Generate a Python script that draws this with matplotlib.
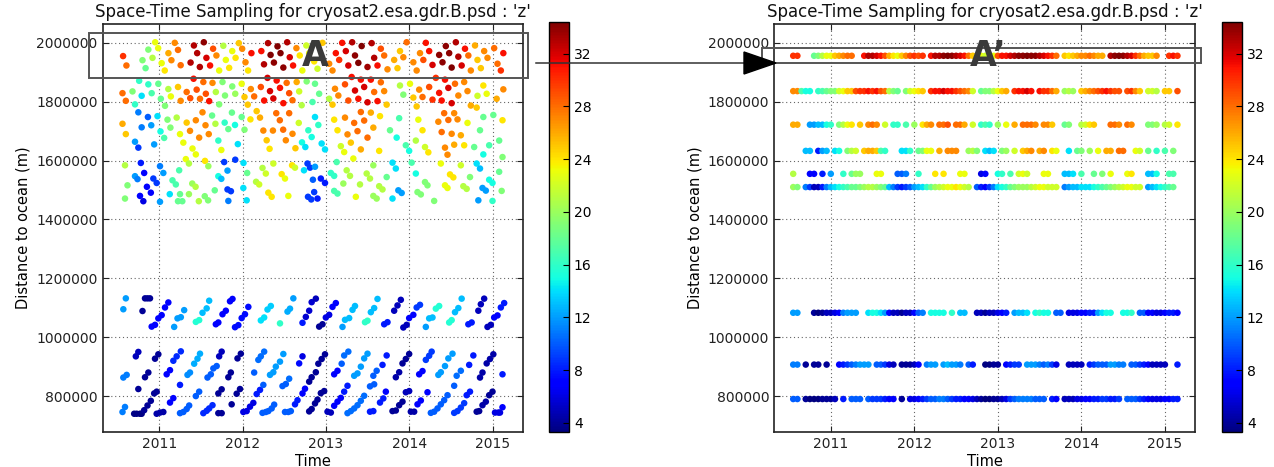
import matplotlib
matplotlib.use('Agg')
import matplotlib.pyplot as plt
import numpy as np
from matplotlib.patches import Rectangle, Polygon
from matplotlib.lines import Line2D

W, H = 1274, 467
_ = None

TITLE = "Space-Time Sampling for cryosat2.esa.gdr.B.psd : 'z'"
years = [2011, 2012, 2013, 2014, 2015]
dist_ticks = [800000, 1000000, 1200000, 1400000, 1600000, 1800000, 2000000]
cbar_ticks = [4, 8, 12, 16, 20, 24, 28, 32]
z_min, z_max = 3.3, 34.4

# ---- panel A : (time, distance in km, z) ----
upper_band = [
    (2010.567,1955,30),(2010.607,1923,28),(2010.952,2002,23),(2010.988,1982,23),(2010.80,1941,19),
    (2010.837,1914,18),(2010.87,1977,19),(2010.92,1949,21),(2011.03,1931,23),(2011.067,1906,24),
    (2011.111,1965,26),(2011.147,1941,27),(2011.187,2000,27),(2011.226,1976,28),(2011.258,1924,28),
    (2011.377,1933,33),(2011.417,1991,33),(2011.456,1965,33),(2011.488,1918,33),(2011.536,2002,34),
    (2011.567,1949,32),(2011.611,1923,31),(2011.647,1980,29),(2011.687,1957,27),(2011.72,1906,23),
    (2011.77,1990,21),(2011.80,1942,23),(2011.84,1915,24),(2011.877,1972,23),(2011.917,1949,24),
    (2011.956,1999,25),(2011.996,1980,27),(2012.036,1934,27),(2012.067,1906,24),(2012.107,1965,31),
    (2012.226,1972,31),(2012.258,1927,33),(2012.306,1999,33),(2012.337,1959,34.5),(2012.377,1933,34),
    (2012.42,1988,34.5),(2012.456,1965,34.5),(2012.49,1916,34),(2012.536,2002,33),(2012.567,1951,32),
    (2012.607,1923,31),(2012.647,1982,27),(2012.687,1957,24),(2012.718,1906,23),(2012.766,1991,22),
    (2012.80,1965,23),(2012.86,1937,24),(2012.90,1912,22),(2012.96,2000,25),(2013.04,1929,27),
    (2013.08,1906,27),(2013.12,1965,31),(2013.16,1942,30),(2013.196,2000,31),(2013.24,1972,32),
    (2013.27,1923,32),(2013.316,2002,33),(2013.35,1957,34),(2013.39,1932,34.5),(2013.43,1989,34.5),
    (2013.50,1918,33.5),(2013.55,1999,33),(2013.58,1949,33),(2013.62,1923,31),(2013.66,1980,29),
    (2013.70,1957,28),(2013.74,1910,27),(2013.82,1942,26),(2013.86,1914,25),(2013.89,1972,25),
    (2013.93,1951,27),(2013.97,2002,28),(2014.05,1934,27),(2014.09,1906,27),(2014.13,1965,27),
    (2014.17,1942,29),(2014.20,2000,31),(2014.24,1972,31),(2014.28,1925,32),(2014.36,1959,34),
    (2014.40,1934,34),(2014.44,1989,34),(2014.48,1965,34),(2014.51,1916,34.5),(2014.56,2002,33),
    (2014.59,1953,33),(2014.63,1923,32),(2014.67,1980,31),(2014.71,1957,28),(2014.74,1906,27),
    (2014.79,1991,26),(2014.82,1942,25),(2014.86,1914,25),(2014.90,1972,27),(2014.94,1949,27),
    (2015.02,1982,28),(2015.06,1929,28),(2015.10,1906,30),(2015.13,1965,31),
    # 1780 - 1890 km
    (2010.76,1871,16),(2010.68,1835,19),(2010.56,1829,28),(2010.60,1803,28),(2010.71,1791,16),
    (2010.79,1820,14),(2010.87,1859,16),(2010.91,1829,17),(2010.99,1861,18),(2011.02,1810,18),
    (2011.07,1786,19),(2011.11,1843,21),(2011.14,1818,23),(2011.226,1850,25),(2011.258,1803,27),
    (2011.33,1833,28),(2011.373,1812,29),(2011.413,1878,31),(2011.45,1841,29),(2011.49,1810,28),
    (2011.53,1867,28),(2011.56,1827,29),(2011.60,1802,31),(2011.64,1864,27),(2011.68,1833,21),
    (2011.72,1791,19),(2011.76,1867,19),(2011.79,1821,19),(2011.877,1852,19),(2011.913,1827,20),
    (2011.99,1861,23),(2012.024,1816,25),(2012.10,1843,27),(2012.14,1818,28),(2012.22,1850,29),
    (2012.26,1804,31),(2012.30,1881,32),(2012.33,1836,32),(2012.37,1811,32),(2012.41,1872,31),
    (2012.45,1847,31),(2012.49,1795,31),(2012.53,1864,28),(2012.56,1829,29),(2012.60,1805,28),
    (2012.65,1867,26),(2012.68,1835,22),(2012.71,1788,21),(2012.77,1869,19),(2012.87,1861,18),
    (2012.92,1827,18),(2012.84,1799,17),(2013.04,1810,21),(2013.08,1790,25),(2013.11,1844,27),
    (2013.15,1821,27),(2013.23,1859,29),(2013.27,1804,29),(2013.31,1884,31),(2013.35,1838,32),
    (2013.39,1810,31),(2013.42,1875,31),(2013.46,1850,32),(2013.50,1798,32),(2013.54,1875,31),
    (2013.58,1833,28),(2013.62,1802,31),(2013.66,1866,28),(2013.70,1836,27),(2013.73,1790,25),
    (2013.89,1855,21),(2013.93,1824,19),(2014.01,1861,23),(2014.05,1814,25),(2014.09,1784,25),
    (2014.12,1841,27),(2014.16,1816,28),(2014.24,1850,29),(2014.28,1807,30),(2014.32,1881,30),
    (2014.36,1830,31),(2014.39,1804,31),(2014.43,1875,31),(2014.47,1847,32),(2014.51,1795,32),
    (2014.55,1861,28),(2014.59,1821,27),(2014.66,1867,27),(2014.70,1836,27),(2014.74,1787,26),
    (2014.82,1820,22),(2014.89,1855,24),(2014.93,1827,23),(2015.05,1810,26),(2015.13,1842,27),
    # 1600 - 1780 km
    (2010.75,1764,11),(2010.56,1725,26),(2010.60,1690,25),(2010.79,1713,11),(2010.865,1748,10),
    (2010.905,1720,12),(2010.71,1664,12),(2010.75,1644,9),(2010.94,1655,12),(2010.98,1751,14),
    (2011.016,1699,15),(2011.06,1677,17),(2011.10,1739,19),(2011.135,1712,19),(2011.21,1746,21),
    (2011.25,1690,23),(2011.29,1661,23),(2011.33,1729,25),(2011.37,1701,27),(2011.44,1737,27),
    (2011.48,1678,27),(2011.52,1764,27),(2011.556,1720,27),(2011.595,1690,27),(2011.40,1641,23),
    (2011.44,1621,23),(2011.635,1753,18),(2011.675,1725,21),(2011.71,1668,16),(2011.746,1636,23),
    (2011.786,1729,16),(2011.83,1707,18),(2011.873,1763,18),(2011.91,1721,15),(2011.944,1656,14),
    (2011.99,1748,18),(2012.024,1705,19),(2012.063,1790,25),(2012.095,1740,24),(2012.17,1768,25),
    (2012.21,1746,26),(2012.25,1702,27),(2012.29,1669,25),(2012.325,1640,24),(2012.365,1702,27),
    (2012.405,1761,28),(2012.448,1737,28),(2012.488,1705,28),(2012.52,1669,27),(2012.56,1761,28),
    (2012.60,1691,27),(2012.635,1642,25),(2012.675,1728,22),(2012.714,1662,15),(2012.754,1646,14),
    (2012.79,1703,16),(2012.83,1680,15),(2012.87,1748,14),(2012.91,1721,16),(2012.95,1658,14),
    (2012.99,1638,14),(2013.10,1739,24),(2013.14,1703,24),(2013.18,1649,22),(2013.22,1629,23),
    (2013.23,1746,27),(2013.26,1689,27),(2013.30,1661,25),(2013.34,1728,28),(2013.38,1700,28),
    (2013.42,1765,28),(2013.46,1736,28),(2013.50,1678,28),(2013.42,1638,26),(2013.54,1763,26),
    (2013.57,1712,26),(2013.65,1751,24),(2013.64,1633,24),(2013.77,1703,18),(2013.85,1678,15),
    (2013.88,1744,17),(2013.96,1652,17),(2014.00,1633,15),(2014.08,1668,21),(2014.11,1739,23),
    (2014.16,1703,24),(2014.19,1646,22),(2014.23,1628,24),(2014.35,1732,27),(2014.39,1697,28),
    (2014.42,1761,28),(2014.47,1738,28),(2014.43,1644,27),(2014.46,1620,27),(2014.51,1691,27),
    (2014.54,1761,27),(2014.58,1740,27),(2014.54,1654,26),(2014.62,1686,26),(2014.66,1652,24),
    (2014.70,1728,23),(2014.78,1646,18),(2014.81,1780,25),(2014.85,1703,18),(2014.89,1748,18),
    (2014.96,1652,17),(2015.01,1755,18),(2015.08,1668,18),(2015.12,1737,24),(2014.89,1621,15),
    (2015.12,1612,19),
    # 1450 - 1600 km
    (2010.59,1584,21),(2010.62,1516,19),(2010.59,1471,19),(2010.71,1547,12),(2010.74,1537,11),
    (2010.78,1592,8),(2010.82,1558,7),(2010.853,1511,7),(2010.90,1491,7),(2010.77,1480,7),
    (2010.81,1462,6),(2010.93,1539,9),(2010.97,1524,9),(2011.01,1581,11),(2011.05,1558,12),
    (2011.01,1460,12),(2011.127,1486,14),(2011.16,1533,17),(2011.20,1519,17),(2011.25,1486,18),
    (2011.226,1462,18),(2011.278,1462,18),(2011.24,1567,17),(2011.32,1605,23),(2011.357,1590,21),
    (2011.397,1522,20),(2011.437,1511,21),(2011.476,1462,21),(2011.357,1486,20),(2011.55,1599,24),
    (2011.59,1581,20),(2011.547,1479,19),(2011.587,1465,19),(2011.667,1499,18),(2011.71,1547,15),
    (2011.746,1538,13),(2011.78,1595,9),(2011.82,1566,12),(2011.82,1502,9),(2011.861,1496,9),
    (2011.83,1463,11),(2011.913,1603,9),(2012.012,1592,14),(2012.056,1558,18),(2012.05,1465,14),
    (2012.01,1507,14),(2012.163,1528,21),(2012.20,1519,22),(2012.24,1575,21),(2012.28,1556,22),
    (2012.31,1491,24),(2012.35,1477,24),(2012.37,1590,22),(2012.47,1554,24),(2012.51,1539,23),
    (2012.55,1480,23),(2012.595,1584,24),(2012.63,1576,22),(2012.738,1567,14),(2012.78,1590,9),
    (2012.81,1576,9),(2012.786,1477,9),(2012.825,1468,9),(2012.845,1535,10),(2012.87,1579,12),
    (2012.86,1493,9),(2012.94,1539,8),(2012.99,1524,8),(2012.90,1471,8),(2013.06,1558,16),
    (2013.10,1548,16),(2013.13,1595,17),(2013.10,1497,17),(2013.14,1488,17),(2013.25,1567,21),
    (2013.29,1548,21),(2013.21,1522,20),(2013.33,1607,23),(2013.41,1519,21),(2013.36,1477,23),
    (2013.49,1556,21),(2013.53,1539,21),(2013.57,1584,20),(2013.64,1513,21),(2013.68,1502,21),
    (2013.57,1480,20),(2013.61,1471,20),(2013.73,1544,18),(2013.80,1593,14),(2013.84,1573,14),
    (2013.87,1499,12),(2013.91,1490,12),(2013.80,1471,14),(2014.08,1556,15),(2014.03,1593,17),
    (2014.10,1493,19),(2014.14,1485,19),(2014.19,1527,19),(2014.22,1516,19),(2014.30,1463,19),
    (2014.38,1590,23),(2014.43,1516,23),(2014.46,1507,23),(2014.49,1553,24),(2014.53,1543,24),
    (2014.62,1584,22),(2014.65,1513,21),(2014.69,1504,21),(2014.73,1544,19),(2014.81,1590,14),
    (2014.85,1573,13),(2014.88,1507,12),(2014.92,1498,12),(2014.83,1465,12),(2014.96,1535,15),
    (2015.00,1524,15),(2015.08,1562,18),(2015.11,1497,19),(2015.00,1463,16),
]

middle_band = [
    (2010.60,1132,12),(2010.57,1095,12),(2010.83,1132,4),(2010.86,1132,4),(2010.89,1132,4),
    (2010.80,1089,4),(2010.91,1036,7),(2010.95,1042,7),(2010.99,1064,7),(2011.03,1075,7),
    (2011.07,1101,7),(2011.11,1118,7),(2011.18,1035,12),(2011.22,1064,12),(2011.26,1068,12),
    (2011.30,1092,12),(2011.44,1052,15.5),(2011.48,1058,15.5),(2011.52,1083,13),(2011.57,1098,13),
    (2011.60,1124,13),(2011.68,1044,7),(2011.71,1050,7),(2011.76,1078,7),(2011.80,1090,7),
    (2011.85,1122,7),(2011.88,1130,7),(2011.91,1034,7.5),(2011.95,1041,7.5),(2011.99,1065,7.5),
    (2012.03,1078,7.5),(2012.07,1103,7.5),(2012.22,1057,14),(2012.26,1067,14),(2012.30,1094,13.5),
    (2012.34,1106,13.5),(2012.45,1047,16),(2012.54,1087,12.5),(2012.57,1097,12.5),(2012.61,1132,12),
    (2012.72,1049,8),(2012.76,1069,5.5),(2012.80,1090,5.5),(2012.83,1119,5.5),(2012.88,1131,5),
    (2012.92,1036,4),(2012.96,1044,4),(2013.00,1067,6),(2013.04,1076,6),(2013.08,1103,7),
    (2013.12,1116,7),(2013.20,1035,12),(2013.23,1059,13),(2013.28,1065,13),(2013.32,1093,13),
    (2013.35,1106,13),(2013.47,1051,16),(2013.50,1056,16),(2013.54,1085,13),(2013.58,1099,13),
    (2013.62,1130,13),(2013.70,1044,8),(2013.74,1051,8),(2013.82,1090,5),(2013.86,1108,5),
    (2013.90,1127,5),(2013.93,1033,5),(2013.97,1042,5),(2014.00,1065,7),(2014.05,1076,7),
    (2014.09,1101,9),(2014.13,1110,9),(2014.20,1035,12),(2014.24,1064,13),(2014.28,1067,13),
    (2014.32,1097,15.5),(2014.36,1106,15.5),(2014.48,1050,15.5),(2014.51,1058,15.5),(2014.55,1085,13),
    (2014.59,1099,13),(2014.63,1131,13),(2014.71,1044,8),(2014.75,1050,8),(2014.83,1090,5),
    (2014.86,1112,5),(2014.90,1131,5),(2014.94,1035,5),(2014.98,1042,5),(2015.02,1067,7),
    (2015.06,1074,7),(2015.10,1101,8),(2015.14,1116,8),
]

lower_band = [
    (2010.56,746,11),(2010.59,763,11),(2010.57,863,11),(2010.61,872,11),(2010.72,935,5),(2010.75,950,5),
    (2010.70,740,3.5),(2010.73,740,3.5),(2010.77,740,3.5),(2010.79,740,3.5),(2010.82,752,4),
    (2010.86,768,4),(2010.90,784,4),(2010.94,809,4),(2010.97,815,4),(2010.75,824,4),(2010.83,864,4),
    (2010.87,880,4),(2010.95,927,4),(2010.99,942,4),(2010.97,740,4.5),(2011.01,744,4.5),(2011.05,746,4.5),
    (2011.09,874,7),(2011.13,888,7),(2011.13,778,7),(2011.17,793,7),(2011.17,920,8.5),(2011.21,935,8.5),
    (2011.26,952,8.5),(2011.25,838,8),(2011.25,742,10),(2011.29,746,10),(2011.33,756,10),(2011.36,768,10),
    (2011.34,872,11.5),(2011.37,880,11.5),(2011.42,910,12.5),(2011.46,927,12.5),(2011.49,944,12.5),
    (2011.44,800,10),(2011.48,815,10),(2011.53,742,8.5),(2011.57,750,8.5),(2011.60,758,8.5),
    (2011.64,769,8.5),(2011.58,863,10),(2011.62,874,10),(2011.65,894,10),(2011.69,902,10),
    (2011.72,935,5),(2011.75,951,5),(2011.71,809,4),(2011.75,823,4),(2011.83,864,4),(2011.86,880,4),
    (2011.71,742,4),(2011.75,742,4),(2011.87,772,4),(2011.93,808,4),(2011.97,824,4),(2011.94,928,4),
    (2011.98,944,4),(2012.01,746,6),(2012.05,749,6),(2012.09,764,6),(2012.13,777,6),(2012.14,880,10),
    (2012.17,807,8),(2012.21,821,8),(2012.25,838,10),(2012.19,923,10.5),(2012.22,935,10.5),
    (2012.26,951,10.5),(2012.24,743,10),(2012.28,746,10),(2012.31,749,10),(2012.35,758,10),
    (2012.38,771,10),(2012.33,872,12),(2012.37,881,12),(2012.40,900,12),(2012.45,917,12),(2012.49,943,12),
    (2012.48,834,10),(2012.52,841,10),(2012.56,859,10.5),(2012.51,746,10),(2012.55,746,10),
    (2012.58,749,10),(2012.63,772,8),(2012.66,786,8),(2012.68,911,7.5),(2012.72,935,6),(2012.72,809,7),
    (2012.75,825,7),(2012.80,849,4),(2012.83,864,4),(2012.80,748,4),(2012.83,756,4),
    (2012.87,775,4),(2012.90,788,4),(2012.94,810,4),(2012.98,817,4),(2012.88,881,4),(2012.91,910,4),
    (2012.95,926,4),(2012.99,942,4),(2013.02,747,5),(2013.06,744,5),(2013.10,767,7),(2013.14,781,7),
    (2013.18,794,7),(2013.10,874,7),(2013.14,886,7),(2013.22,815,8),(2013.26,835,8),(2013.19,910,10),
    (2013.22,938,10.5),(2013.27,951,10.5),(2013.26,742,10.5),(2013.30,749,10.5),(2013.34,758,10.5),
    (2013.38,769,10.5),(2013.42,784,10.5),(2013.46,801,10.5),(2013.34,869,12),(2013.38,877,12),
    (2013.42,900,12),(2013.46,928,12),(2013.50,944,12),(2013.53,833,10),(2013.58,840,10),
    (2013.57,869,10),(2013.61,886,10),(2013.53,747,8),(2013.57,749,8),(2013.65,778,8),(2013.69,792,8),
    (2013.68,906,8),(2013.73,938,8),(2013.72,815,7),(2013.80,749,4),(2013.84,751,4),(2013.88,769,4),
    (2013.92,781,4),(2013.84,864,4.5),(2013.88,881,4.5),(2013.92,911,4),(2013.96,926,4),(2014.00,943,4),
    (2013.96,813,5),(2014.00,817,5),(2014.02,747,4.5),(2014.06,747,4.5),(2014.10,772,7),(2014.14,785,7),
    (2014.12,874,7),(2014.16,885,7),(2014.22,813,7),(2014.20,923,9),(2014.24,937,9),(2014.27,951,9),
    (2014.26,743,10),(2014.30,747,10),(2014.34,758,10),(2014.38,772,10),(2014.42,786,10),
    (2014.46,803,10),(2014.35,872,12),(2014.38,881,12),(2014.43,902,12),(2014.47,928,12),
    (2014.52,944,12),(2014.54,835,10),(2014.57,869,10.5),(2014.62,886,10.5),(2014.54,743,9),
    (2014.58,749,9),(2014.62,761,9),(2014.66,776,9),(2014.69,803,8),(2014.73,815,8),(2014.72,906,8),
    (2014.77,938,8),(2014.81,747,4),(2014.84,749,4),(2014.88,769,4.5),(2014.92,781,4.5),
    (2014.96,803,4),(2015.00,815,4),(2014.85,863,4.5),(2014.88,880,4.5),(2014.93,911,4.5),
    (2014.97,926,4.5),(2015.01,942,4.5),(2015.03,744,6),(2015.07,744,6),(2015.09,744,6),
    (2015.12,762,7),(2015.12,874,8),
]

# ---- panel A' : z read along each distance row, one reading every 0.05 yr from 2010.55 ----
row_dist_km = [1956, 1836, 1722, 1633, 1555, 1510, 1083, 907, 790]
row_z = [
    [30, 30, _, _, _, 18, 19, 21, 23,
     23, 25, 26, 27, 28, 28, _, _, 31, 33, 33, 32, 31, 29, 26, 24, 23, 25, 27, 29,
     30, 29, 30, _, 31, 33, 33, 34, 35, 34, 33, 32, 31, 28, 25, 24, 23, 22, 22, 23,
     29, 31, 31, 32, 33, 34, 34, 35, 34, 34, 33, 32, 31, 30, 28, _, 25, 24, 25, 26,
     27, 27, 28, 27, 26, 26, _, 33, 34, 35, 34, 33, 32, 30, 28, 26, 25, 25, 27, _,
     _, 30, 31, 30],
    [27, 27, 17, 15, 15, _, 16, 17, 18,
     19, 19, 22, 23, 25, 25, 29, 30, 30, 31, 30, 31, 29, 28, 21, 19, 18, _, 19, 22,
     23, 24, 25, _, 30, 31, 31, 32, 31, 31, 30, 29, 28, 27, 22, _, 18, 19, 19, 21,
     23, 25, 26, _, 30, 31, 31, 32, 31, _, 31, 30, 30, 28, 26, _, 20, 21, 20, _,
     25, 26, 27, 28, 29, 30, 31, 30, 29, 29, _, 29, 30, 27, 25, _, 22, 22, 21, _,
     25, 25, _, 29],
    [26, 26, _, _, 12, 12, 13, 13, 15,
     16, _, 19, 21, 23, 24, _, 25, _, 27, 28, 27, _, 22, _, 16, 16, _, 17, _,
     20, _, 24, 26, 27, _, 28, 28, 29, _, 28, 28, 26, _, 22, _, 16, 17, 16, _,
     20, _, 23, _, 26, _, 28, 28, 28, 27, _, 27, 27, 25, _, _, 18, 19, _, _,
     21, 22, 24, 25, _, _, _, 28, 28, 27, _, 28, 27, _, _, _, 19, 19, 20, _,
     21, 22, _, 24],
    [_, _, _, 13, 13, _, 8, 12, 13,
     _, 14, 15, _, 19, 21, 22, _, 25, 26, 26, 25, 17, 16, _, _, _, 14, 14, 16,
     _, 18, 19, 23, 23, _, 26, _, 27, 27, 27, _, _, 20, 21, 19, _, 14, 13, 14,
     _, 19, 20, _, 22, _, 25, 26, 27, _, 26, 27, _, 24, 23, _, _, 14, _, 18,
     19, _, 20, _, 23, _, 26, 26, _, 28, 28, _, _, 23, 22, _, 18, _, 16, _,
     17, _, 19, _],
    [21, _, _, _, 7, 7, _, 8, _,
     12, _, _, 16, _, 18, 20, 20, _, _, _, 23, 23, _, _, _, 10, 10, 11, _,
     _, 16, _, _, _, 24, _, 24, _, _, _, 23, 23, _, _, _, 6, 7, _, _,
     15, 16, _, 17, _, 22, 23, 22, _, _, _, 23, 23, _, _, _, 13, 13, 14, _,
     17, _, _, 18, _, 19, _, 23, _, _, _, 23, 24, _, _, _, 13, 13, 15, _,
     _, 17, 17, _],
    [20, 19, _, 11, 9, 5, 5, 8, 11,
     13, 14, 15, 16, 17, 18, 18, 19, 20, 21, 21, 20, 19, 18, 13, 11, 9, 8, 9, 10,
     12, 13, 14, 16, 18, 20, 21, 22, 23, 23, 24, 23, 22, 21, _, 10, 8, 7, 9, 11,
     14, 15, 16, 18, 19, 20, 20, 20, 21, 22, 23, 23, 22, 22, 22, _, 11, 12, 13, 13,
     14, 14, 14, 15, 16, 17, 18, 19, 20, 21, 22, 23, 23, 22, 22, _, 12, 13, 14, 15,
     16, 17, 18, _],
    [12, 12, _, _, _, 4, 3, 4, 5,
     5, 6, 7, 11, 12, 12, 12, _, _, 14, 15, 15, 14, 12, 7, 5, 5, 4, 5, 5,
     7, 10, 11, _, 15, 15, 15, 15, _, 16, _, 13, 13, _, _, 5, 5, 4, 5, 5,
     6, 7, 8, _, 12, 13, 13, 14, _, 15, 16, 15, 15, _, 10, 10, _, 6, 6, 6,
     7, 7, 8, 8, 12, 14, 15, 15, _, _, 15, 15, 16, _, 10, 10, 7, 7, 6, 6,
     7, 8, 8, 7],
    [11, 11, _, 4, _, 4, 4, _, 4,
     _, _, 7, 8, 9, 10, 11, 12, 12, 12, _, 10, 10, 9, 6, 5, _, 4, 4, 4,
     5, 7, _, 11, 12, 12, _, 12, 13, 12, 12, 11, _, 10, 8, _, _, 3, 3, 4,
     4, _, 7, 8, 9, 9, _, 12, 12, 12, 11, 10, 11, 9, 6, _, _, 5, 5, 5,
     5, _, 8, 9, 10, 10, 10, 12, 12, 11, 11, _, 10, 10, 9, 8, 7, 5, 5, 5,
     5, _, _, 8],
    [10, 10, _, 4, 3, 3, 3, 4, 4,
     4, 5, _, 8, _, 10, 10, 10, _, 10, 9, 9, 9, 8, 7, 7, _, 4, _, 6,
     6, 7, 8, 9, 10, 10, 11, 11, 10, 9, 8, 8, 7, 7, 6, 5, 4, 3, 3, 4,
     4, 5, 6, 9, 10, 11, 11, 11, 11, 10, 10, 10, _, 8, 7, _, 5, 5, 5, 6,
     6, 7, 7, 8, 8, 9, 9, 8, 8, 9, _, 10, 10, 10, 9, 8, 7, 6, 6, 6,
     7, 7, 8, 8],
]
t_grid = np.round(2010.55 + 0.05 * np.arange(93), 2)


def fig_xy(x, y):
    # pixel position in the 1274x467 picture -> figure fraction
    return x / W, 1 - y / H


def style(ax):
    ax.set_xlim(2010.32, 2015.36)
    ax.set_ylim(678000, 2064000)
    ax.set_xticks(years)
    ax.set_xticklabels([str(y) for y in years])
    ax.set_yticks(dist_ticks)
    ax.set_yticklabels([str(d) for d in dist_ticks])
    ax.tick_params(direction='in', top=True, right=True, length=4, width=0.8,
                   labelsize=10, colors='#222222')
    ax.grid(True, linestyle=(0, (1, 2.5)), color='0.4', linewidth=0.8)
    ax.set_axisbelow(True)
    for s in ax.spines.values():
        s.set_linewidth(1.2)
        s.set_color('#222222')
    ax.set_title(TITLE, fontsize=12, pad=5, color='#111111')
    ax.set_xlabel('Time', fontsize=10.5, labelpad=2)
    ax.set_ylabel('Distance to ocean (m)', fontsize=10.5, labelpad=4)


def colorbar(sc, x0):
    cax = fig.add_axes([x0 / W, 35 / H, 20 / W, 410 / H])
    cb = fig.colorbar(sc, cax=cax, ticks=cbar_ticks)
    cb.outline.set_linewidth(1.0)
    cax.tick_params(direction='in', length=4, width=0.8, labelsize=10)
    return cb


fig = plt.figure(figsize=(W / 100, H / 100), dpi=100)

# panel A
axA = fig.add_axes([102.5 / W, 35 / H, 420 / W, 408 / H])
pts = np.array(upper_band + middle_band + lower_band, dtype=float)
scA = axA.scatter(pts[:, 0], pts[:, 1] * 1000, c=pts[:, 2], cmap='jet',
                  vmin=z_min, vmax=z_max, s=22, edgecolors='none')
style(axA)
colorbar(scA, 549)

# panel A'
axB = fig.add_axes([774 / W, 35 / H, 421 / W, 408 / H])
tt, dd, zz = [], [], []
for dkm, zs in zip(row_dist_km, row_z):
    zs = np.array(zs, dtype=float)
    ok = ~np.isnan(zs)
    tt.append(t_grid[ok])
    dd.append(np.full(ok.sum(), dkm * 1000.0))
    zz.append(zs[ok])
scB = axB.scatter(np.concatenate(tt), np.concatenate(dd), c=np.concatenate(zz),
                  cmap='jet', vmin=z_min, vmax=z_max, s=22, edgecolors='none')
style(axB)
colorbar(scB, 1222)

# annotation boxes, letters and arrow
x0, y0 = fig_xy(89, 78)
fig.add_artist(Rectangle((x0, y0), 439 / W, 45 / H, transform=fig.transFigure,
                         fill=False, ec='#555555', lw=1.4, zorder=10))
x0, y0 = fig_xy(762, 63)
fig.add_artist(Rectangle((x0, y0), 439 / W, 15 / H, transform=fig.transFigure,
                         fill=False, ec='#555555', lw=1.4, zorder=10))
fig.text(*fig_xy(315, 56), 'A', fontsize=25, fontweight='bold', color='#3a3a3a',
         ha='center', va='center', zorder=11)
fig.text(*fig_xy(988, 56), 'A\u2019', fontsize=25, fontweight='bold', color='#3a3a3a',
         ha='center', va='center', zorder=11)
xa, ya = fig_xy(536, 63)
xb, yb = fig_xy(746, 63)
fig.add_artist(Line2D([xa, xb], [ya, yb], transform=fig.transFigure,
                      color='#333333', lw=1.1, zorder=10))
fig.add_artist(Polygon([fig_xy(744, 52), fig_xy(776, 63), fig_xy(744, 74)],
                       closed=True, transform=fig.transFigure, fc='black', ec='black',
                       zorder=11))

fig.savefig('out.png', dpi=100)
